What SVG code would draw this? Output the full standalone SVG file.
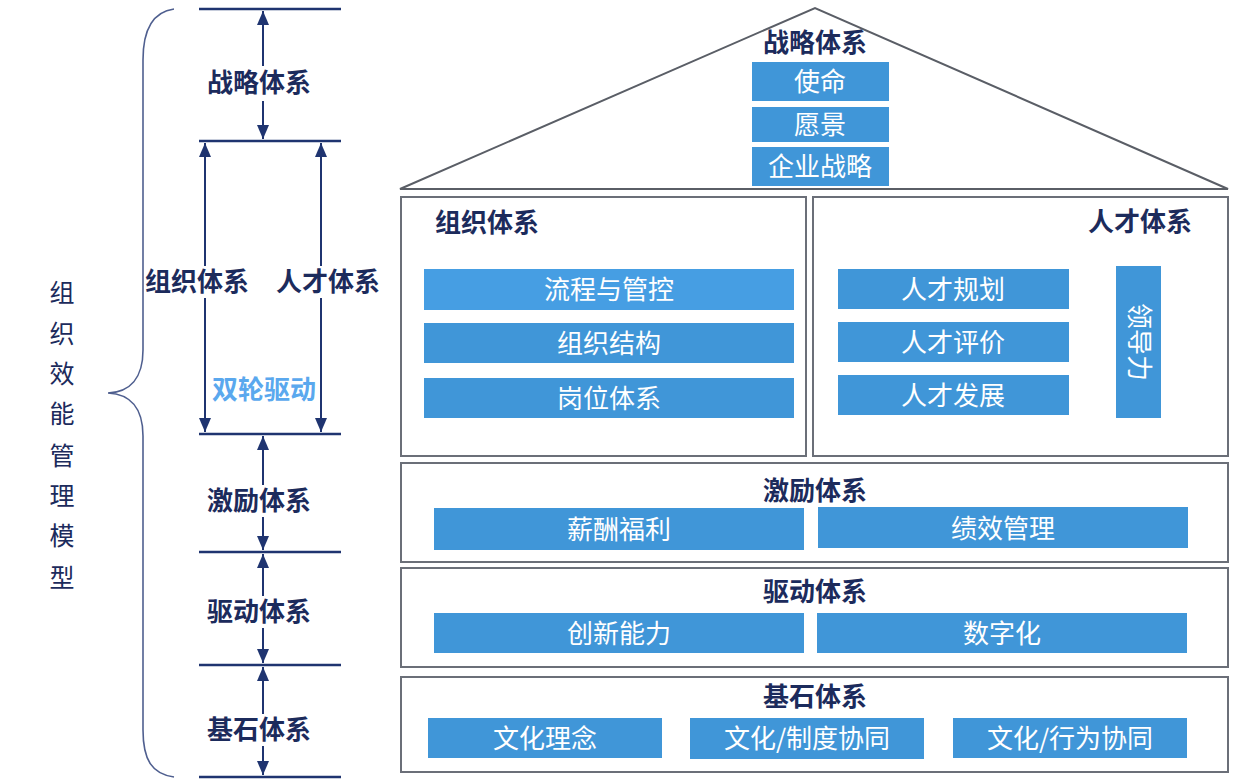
<svg xmlns="http://www.w3.org/2000/svg" width="1251" height="783" viewBox="0 0 1251 783">
<defs>
<marker id="a" viewBox="0 0 14 12" refX="14" refY="6" markerWidth="14" markerHeight="12" markerUnits="userSpaceOnUse" orient="auto-start-reverse">
<path d="M0,0 L14,6 L0,12 Z" fill="#1f3470"/>
</marker>
<style>
.lvl{stroke:#1f3470;stroke-width:2.5;fill:none}
.arr{stroke:#1f3470;stroke-width:2;fill:none}
.lab{font-family:"Noto Sans CJK SC","Liberation Sans",sans-serif;font-size:26px;font-weight:bold;fill:#1c2b5c;text-anchor:middle}
.blue{fill:#4096d8}
.bt{font-family:"Noto Sans CJK SC","Liberation Sans",sans-serif;font-size:26px;fill:#ffffff;text-anchor:middle}
.box{fill:#ffffff;stroke:#6b6f78;stroke-width:2}
.vt{font-family:"Noto Sans CJK SC","Liberation Sans",sans-serif;font-size:25px;fill:#1c2b5c;text-anchor:middle}
</style>
</defs>
<rect width="1251" height="783" fill="#ffffff"/>

<g id="connectors">
<path class="arr" d="M263,11 V66" marker-start="url(#a)"/>
<path class="arr" d="M263,101 V139" marker-end="url(#a)"/>
<path class="arr" d="M205,143 V266" marker-start="url(#a)"/>
<path class="arr" d="M205,298 V432" marker-end="url(#a)"/>
<path class="arr" d="M321,143 V266" marker-start="url(#a)"/>
<path class="arr" d="M321,298 V432" marker-end="url(#a)"/>
<path class="arr" d="M263,436 V485" marker-start="url(#a)"/>
<path class="arr" d="M263,517 V550" marker-end="url(#a)"/>
<path class="arr" d="M263,554 V596" marker-start="url(#a)"/>
<path class="arr" d="M263,628 V663" marker-end="url(#a)"/>
<path class="arr" d="M263,667 V714" marker-start="url(#a)"/>
<path class="arr" d="M263,746 V775" marker-end="url(#a)"/>
</g>

<g id="levels">
<line class="lvl" x1="199" y1="9" x2="341" y2="9"/>
<line class="lvl" x1="199" y1="141" x2="341" y2="141"/>
<line class="lvl" x1="199" y1="434" x2="341" y2="434"/>
<line class="lvl" x1="199" y1="552" x2="341" y2="552"/>
<line class="lvl" x1="199" y1="665" x2="341" y2="665"/>
<line class="lvl" x1="199" y1="777" x2="341" y2="777"/>
</g>

<g id="brace">
<path d="M174,9 C152,12 143,30 143,60 V350 C143,378 130,392 108,393 C130,394 143,408 143,436 V730 C143,760 152,774 174,777" fill="none" stroke="#4f5f8f" stroke-width="1.6"/>
</g>

<g id="model-title">
<text class="vt" x="62" y="302">组</text>
<text class="vt" x="62" y="343">织</text>
<text class="vt" x="62" y="383">效</text>
<text class="vt" x="62" y="423">能</text>
<text class="vt" x="62" y="465">管</text>
<text class="vt" x="62" y="505">理</text>
<text class="vt" x="62" y="545">模</text>
<text class="vt" x="62" y="587">型</text>
</g>

<g id="left-labels">
<text class="lab" x="259" y="92">战略体系</text>
<text class="lab" x="197" y="291">组织体系</text>
<text class="lab" x="328" y="291">人才体系</text>
<text class="lab" x="264" y="399" style="fill:#5aa8ee">双轮驱动</text>
<text class="lab" x="259" y="510">激励体系</text>
<text class="lab" x="259" y="621">驱动体系</text>
<text class="lab" x="259" y="739">基石体系</text>
</g>

<g id="strategy">
<path d="M400,189 L815,8 L1228,189 Z" fill="none" stroke="#5a5e66" stroke-width="2"/>
<text class="lab" x="815" y="52">战略体系</text>
<rect class="blue" x="752" y="62" width="137" height="39"/>
<text class="bt" x="820" y="91">使命</text>
<rect class="blue" x="752" y="107" width="137" height="35"/>
<text class="bt" x="820" y="134">愿景</text>
<rect class="blue" x="752" y="147" width="137" height="39"/>
<text class="bt" x="820" y="176">企业战略</text>
</g>

<g id="org">
<rect class="box" x="401" y="197" width="405" height="259"/>
<text class="lab" x="487" y="232">组织体系</text>
<rect class="blue" x="424" y="269" width="370" height="41" style="fill:#469ee3"/>
<text class="bt" x="609" y="299">流程与管控</text>
<rect class="blue" x="424" y="323" width="370" height="40"/>
<text class="bt" x="609" y="353">组织结构</text>
<rect class="blue" x="424" y="378" width="370" height="40"/>
<text class="bt" x="609" y="408">岗位体系</text>
</g>

<g id="talent">
<rect class="box" x="813" y="197" width="415" height="259"/>
<text class="lab" x="1140" y="231">人才体系</text>
<rect class="blue" x="838" y="269" width="231" height="40"/>
<text class="bt" x="953" y="299">人才规划</text>
<rect class="blue" x="838" y="322" width="231" height="40"/>
<text class="bt" x="953" y="352">人才评价</text>
<rect class="blue" x="838" y="375" width="231" height="40"/>
<text class="bt" x="953" y="405">人才发展</text>
<rect class="blue" x="1116" y="266" width="45" height="152"/>
<text class="bt" x="0" y="0" transform="translate(1130,342) rotate(90)">领导力</text>
</g>

<g id="incentive">
<rect class="box" x="401" y="463" width="827" height="99"/>
<text class="lab" x="815" y="500">激励体系</text>
<rect class="blue" x="434" y="508" width="370" height="42"/>
<text class="bt" x="619" y="539">薪酬福利</text>
<rect class="blue" x="818" y="507" width="370" height="41"/>
<text class="bt" x="1003" y="538">绩效管理</text>
</g>

<g id="drive">
<rect class="box" x="401" y="568" width="827" height="99"/>
<text class="lab" x="815" y="601">驱动体系</text>
<rect class="blue" x="434" y="613" width="370" height="40"/>
<text class="bt" x="619" y="643">创新能力</text>
<rect class="blue" x="817" y="613" width="370" height="40"/>
<text class="bt" x="1002" y="643">数字化</text>
</g>

<g id="foundation">
<rect class="box" x="401" y="677" width="827" height="95"/>
<text class="lab" x="815" y="706">基石体系</text>
<rect class="blue" x="428" y="718" width="234" height="40"/>
<text class="bt" x="545" y="748">文化理念</text>
<rect class="blue" x="690" y="718" width="234" height="41"/>
<text class="bt" x="807" y="748">文化/制度协同</text>
<rect class="blue" x="953" y="718" width="234" height="40"/>
<text class="bt" x="1070" y="748">文化/行为协同</text>
</g>
</svg>
